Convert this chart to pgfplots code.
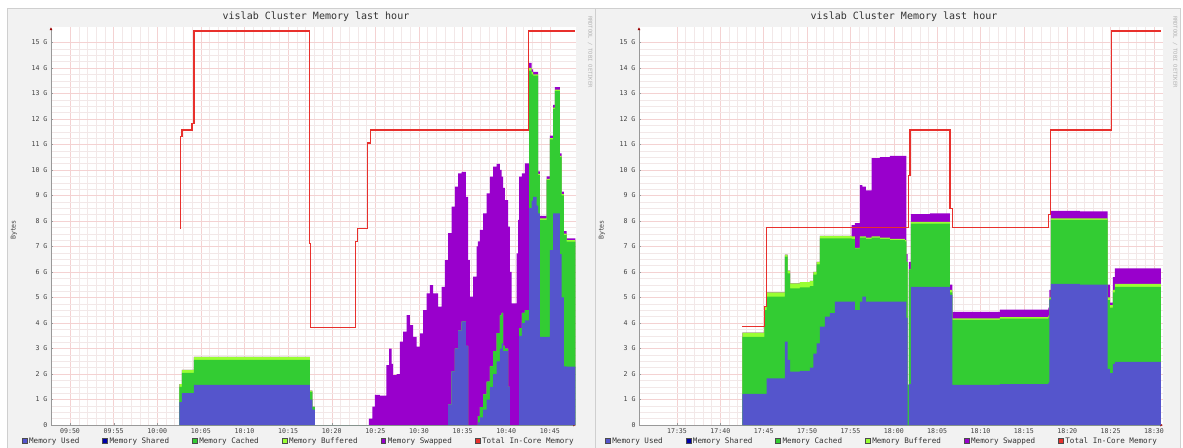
\documentclass[border=0pt]{standalone}
\usepackage{pgfplots}
\pgfplotsset{compat=1.18}
\usepackage{pgfplotstable}
\usetikzlibrary{arrows.meta}
\usepackage{fontspec}
\setmainfont{DejaVu Sans Mono}

\definecolor{mused}{HTML}{5555CC}
\definecolor{mshared}{HTML}{0000AA}
\definecolor{mcached}{HTML}{33CC33}
\definecolor{mbuff}{HTML}{99FF33}
\definecolor{mswap}{HTML}{9900CC}
\definecolor{mtotal}{HTML}{E8302C}
\definecolor{panelbg}{HTML}{F2F2F2}
\definecolor{panelframe}{HTML}{CFCFCF}
\definecolor{gridminor}{HTML}{F2E8E8}
\definecolor{gridmajor}{HTML}{F4D2D2}

% left graph: px = horizontal position of the step, values in GB (cumulative stack tops)
\pgfplotstableread{
px U C B S
179.5 0.9 1.5 1.6 1.6
182 1.25 2.04 2.16 2.16
194 1.57 2.55 2.67 2.67
310 1.0 1.3 1.35 1.35
312.5 0.6 0.7 0.72 0.72
315 0 0 0 0
369 0 0 0 0.25
372.5 0 0 0 0.72
375 0 0 0 1.18
380 0 0 0 1.15
386.5 0 0 0 2.35
389.3 0 0 0 3.0
391.7 0 0 0 2.4
393.3 0 0 0 1.96
396.7 0 0 0 2.0
400 0 0 0 3.27
403.3 0 0 0 3.66
406.7 0 0 0 4.31
410 0 0 0 3.92
413.3 0 0 0 3.46
416.7 0 0 0 3.07
420 0 0 0 3.59
423.3 0 0 0 4.5
426.7 0 0 0 5.16
430 0 0 0 5.49
433.3 0 0 0 5.16
438.3 0 0 0 4.64
441.7 0 0 0 5.42
445 0 0 0 6.47
448.3 0.8 0.8 0.8 7.52
451.7 2.1 2.1 2.1 8.56
455 3.0 3.0 3.0 9.35
458.3 3.7 3.7 3.7 9.87
461.7 4.05 4.05 4.05 9.93
466 3.1 3.1 3.1 8.95
468.3 0 0 0 6.47
470 0 0 0 5.03
473.3 0 0 0 5.82
476.7 0 0 0 7.0
478 0.1 0.35 0.35 7.2
480 0.3 0.7 0.7 7.65
483.3 0.6 1.2 1.2 8.3
486.7 1.0 1.7 1.7 9.08
490 1.5 2.3 2.3 9.74
493.3 2.0 2.9 2.9 10.13
496.7 2.5 3.6 3.6 10.24
500 3.0 4.3 4.3 10.0
501.7 3.2 4.4 4.4 9.74
503.3 2.9 3.1 3.1 9.3
505 2.9 3.0 3.0 8.82
508.3 1.5 1.5 1.5 7.78
510 0 0 0 6.0
511.7 0 0 0 4.77
516.7 0 0 0 6.73
518.3 0 0 0 8.04
519.3 3.5 3.8 3.8 9.74
522 4.0 4.4 4.4 9.87
525 4.1 4.5 4.5 10.26
529.3 8.5 13.9 14.0 14.2
531.7 8.8 13.75 13.85 13.95
533.3 8.95 13.7 13.75 13.85
536.7 8.6 13.7 13.75 13.85
538.3 8.3 9.8 9.85 9.95
540 3.46 8.04 8.1 8.2
546.7 3.46 9.6 9.65 9.75
550 6.86 11.2 11.25 11.35
553.3 8.3 12.4 12.45 12.55
555 8.3 13.1 13.15 13.25
560 6.7 10.5 10.55 10.65
561.7 5.0 9.0 9.05 9.15
564 2.3 7.45 7.5 7.6
566.7 2.29 7.19 7.25 7.32
575.5 2.29 7.19 7.25 7.32
}\leftstack

\pgfplotstableread{
px T
180 7.7
180.8 11.3
182 11.57
192 11.84
194 15.45
309.5 7.1
311 3.84
355.5 7.2
357.5 7.72
368 11.06
371 11.57
528.5 15.45
575.5 15.45
}\lefttotal

\pgfplotstableread{
px U C B S
742.3 1.22 3.46 3.62 3.62
764.3 1.22 4.5 4.65 4.65
766.7 1.83 5.03 5.2 5.2
785 3.27 6.6 6.68 6.68
787.7 2.55 5.95 6.05 6.05
790 2.09 5.36 5.55 5.55
800 2.12 5.4 5.6 5.6
810 2.25 5.45 5.65 5.65
813.3 2.8 5.9 6.0 6.0
816.7 3.2 6.3 6.4 6.4
820 3.86 7.32 7.42 7.42
825 4.25 7.32 7.42 7.42
830 4.39 7.32 7.42 7.42
835 4.84 7.32 7.42 7.42
851.7 4.84 7.3 7.4 7.84
855 4.5 6.93 6.95 7.92
860 4.84 7.35 7.4 9.41
862.3 5.03 7.35 7.4 9.35
866 4.84 7.3 7.35 9.2
871.7 4.84 7.35 7.4 10.47
880 4.84 7.3 7.35 10.5
890 4.84 7.25 7.3 10.55
905 4.84 7.2 7.25 10.55
906.5 4.2 6.4 6.4 6.7
907.7 0 1.57 1.57 1.57
909 1.6 6.1 6.1 6.4
911 5.42 7.9 7.97 8.27
930 5.42 7.9 7.97 8.3
950 5.1 5.2 5.3 5.5
952.3 1.57 4.12 4.18 4.44
1000 1.6 4.17 4.23 4.52
1048.3 1.66 4.22 4.29 4.6
1049.5 4.9 4.95 5.0 5.3
1051 5.53 8.04 8.1 8.4
1080 5.5 8.04 8.1 8.38
1107.7 2.2 4.9 5.0 5.5
1110 2.03 4.6 4.7 4.8
1113 2.4 5.2 5.3 5.8
1115 2.48 5.42 5.53 6.14
1161 2.48 5.42 5.53 6.14
}\rightstack

\pgfplotstableread{
px T
742.3 3.86
764.3 4.64
766.7 7.74
908.3 9.8
910 11.57
950 8.5
952.7 7.75
1048.3 8.24
1050.8 11.57
1111.7 15.45
1161 15.45
}\righttotal

\pgfplotsset{
  rrd/.style={
    scale only axis, width=525pt, height=397.8pt,
    ymin=0, ymax=15.6,
    axis x line*=bottom, axis y line*=left,
    axis line style={draw=black!40, line width=0.6pt},
    x axis line style={-{Latex[length=3pt,width=3pt,color=red!60!black]}},
    y axis line style={-{Latex[length=3pt,width=3pt,color=red!60!black]}},
    axis background/.style={fill=white},
    grid=both,
    major grid style={draw=gridmajor, line width=0.45pt},
    minor grid style={draw=gridminor, line width=0.45pt},
    minor x tick num=4,
    minor y tick num=3,
    ytick={0,1,...,15},
    yticklabels={0,1 G,2 G,3 G,4 G,5 G,6 G,7 G,8 G,9 G,10 G,11 G,12 G,13 G,14 G,15 G},
    major tick length=2pt, minor tick length=0pt,
    tick style={draw=black!40},
    ticklabel style={font=\fontsize{6.6pt}{7pt}\selectfont, text=black!75},
    legend columns=6,
    legend style={draw=none, fill=none, anchor=west, inner sep=0pt,
      font=\fontsize{7.6pt}{8pt}\selectfont, text=black!80,
      /tikz/every even column/.append style={column sep=21pt}},
    legend cell align=left,
    legend image code/.code={\draw[#1, draw=black!70, line width=0.4pt] (0pt,-2.4pt) rectangle (4.8pt,2.4pt);},
  },
}

\begin{document}
\begin{tikzpicture}[x=1pt,y=1pt]
\useasboundingbox (0,0) rectangle (1183,447);
\fill[white] (0,0) rectangle (1183,447);
\filldraw[fill=panelbg, draw=panelframe, line width=0.6pt] (7,-1) rectangle (595.5,439);
\filldraw[fill=panelbg, draw=panelframe, line width=0.6pt] (595.5,-1) rectangle (1180,439);

\node[font=\fontsize{10pt}{11pt}\selectfont, text=black!80] at (316,430) {vislab Cluster Memory last hour};
\node[font=\fontsize{10pt}{11pt}\selectfont, text=black!80] at (904,430) {vislab Cluster Memory last hour};
\node[font=\fontsize{6.6pt}{7pt}\selectfont, text=black!75, rotate=90] at (14,217) {Bytes};
\node[font=\fontsize{6.6pt}{7pt}\selectfont, text=black!75, rotate=90] at (602,217) {Bytes};
\node[font=\fontsize{5.4pt}{6pt}\selectfont, text=black!30, rotate=-90] at (590,395) {RRDTOOL / TOBI OETIKER};
\node[font=\fontsize{5.4pt}{6pt}\selectfont, text=black!30, rotate=-90] at (1175,395) {RRDTOOL / TOBI OETIKER};

\begin{axis}[rrd, at={(51pt,22pt)}, anchor=south west, xmin=47.82, xmax=108,
  xtick={50,55,...,105},
  xticklabels={09:50,09:55,10:00,10:05,10:10,10:15,10:20,10:25,10:30,10:35,10:40,10:45},
  legend style={at={(-0.0558,-0.0404)}}]
\addlegendimage{fill=mused}\addlegendentry{Memory Used}
\addlegendimage{fill=mshared}\addlegendentry{Memory Shared}
\addlegendimage{fill=mcached}\addlegendentry{Memory Cached}
\addlegendimage{fill=mbuff}\addlegendentry{Memory Buffered}
\addlegendimage{fill=mswap}\addlegendentry{Memory Swapped}
\addlegendimage{fill=mtotal}\addlegendentry{Total In-Core Memory}
\addplot[forget plot, const plot, fill=mswap, draw=none] table[x expr={50+(\thisrow{px}-70)/8.727}, y=S]{\leftstack} \closedcycle;
\addplot[forget plot, const plot, fill=mbuff, draw=none] table[x expr={50+(\thisrow{px}-70)/8.727}, y=B]{\leftstack} \closedcycle;
\addplot[forget plot, const plot, fill=mcached, draw=none] table[x expr={50+(\thisrow{px}-70)/8.727}, y=C]{\leftstack} \closedcycle;
\addplot[forget plot, const plot, fill=mused, draw=none] table[x expr={50+(\thisrow{px}-70)/8.727}, y=U]{\leftstack} \closedcycle;
\addplot[forget plot, const plot, draw=mtotal, line width=1.1pt] table[x expr={50+(\thisrow{px}-70)/8.727}, y=T]{\lefttotal};
\end{axis}

\begin{axis}[rrd, at={(639pt,22pt)}, anchor=south west, width=524pt, xmin=30.62, xmax=91.04,
  xtick={35,40,...,90},
  xticklabels={17:35,17:40,17:45,17:50,17:55,18:00,18:05,18:10,18:15,18:20,18:25,18:30},
  legend style={at={(-0.0649,-0.0404)}}]
\addlegendimage{fill=mused}\addlegendentry{Memory Used}
\addlegendimage{fill=mshared}\addlegendentry{Memory Shared}
\addlegendimage{fill=mcached}\addlegendentry{Memory Cached}
\addlegendimage{fill=mbuff}\addlegendentry{Memory Buffered}
\addlegendimage{fill=mswap}\addlegendentry{Memory Swapped}
\addlegendimage{fill=mtotal}\addlegendentry{Total In-Core Memory}
\addplot[forget plot, const plot, fill=mswap, draw=none] table[x expr={35+(\thisrow{px}-677)/8.673}, y=S]{\rightstack} \closedcycle;
\addplot[forget plot, const plot, fill=mbuff, draw=none] table[x expr={35+(\thisrow{px}-677)/8.673}, y=B]{\rightstack} \closedcycle;
\addplot[forget plot, const plot, fill=mcached, draw=none] table[x expr={35+(\thisrow{px}-677)/8.673}, y=C]{\rightstack} \closedcycle;
\addplot[forget plot, const plot, fill=mused, draw=none] table[x expr={35+(\thisrow{px}-677)/8.673}, y=U]{\rightstack} \closedcycle;
\addplot[forget plot, const plot, draw=mtotal, line width=1.1pt] table[x expr={35+(\thisrow{px}-677)/8.673}, y=T]{\righttotal};
\end{axis}
\end{tikzpicture}
\end{document}
